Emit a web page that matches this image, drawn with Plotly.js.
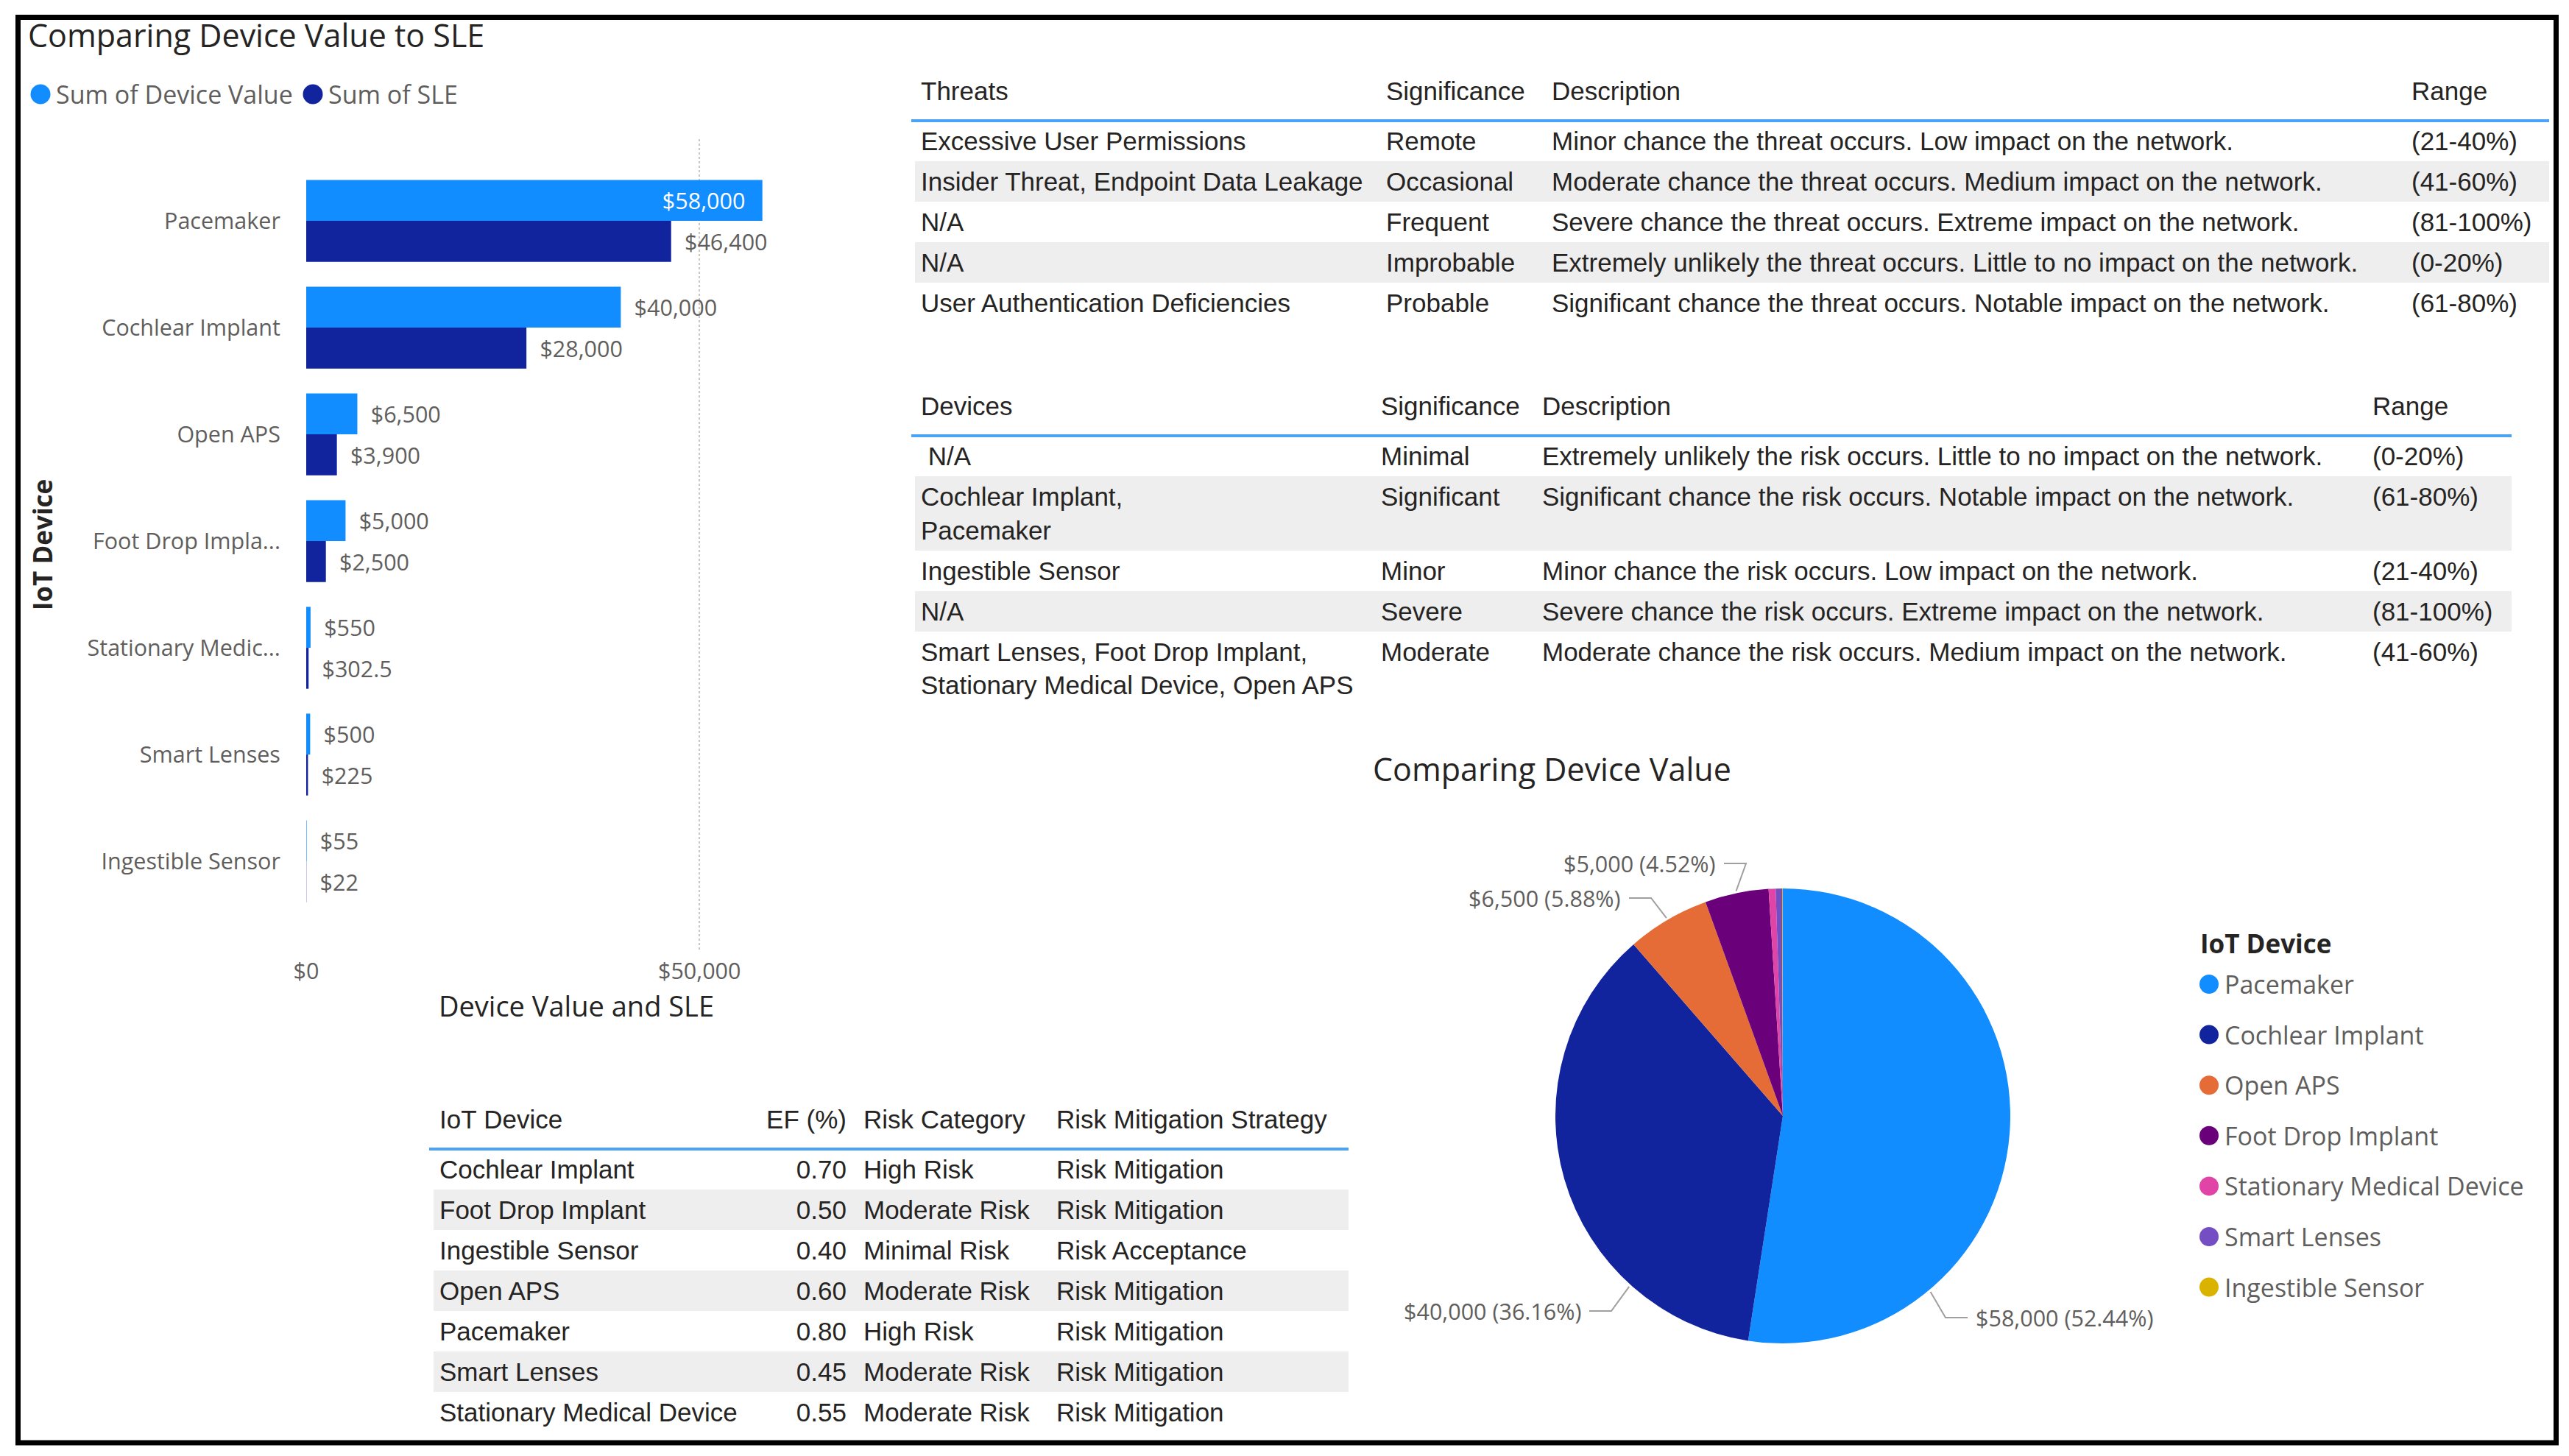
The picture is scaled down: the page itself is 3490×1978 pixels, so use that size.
<!DOCTYPE html>
<html><head><meta charset="utf-8">
<script src="https://cdn.plot.ly/plotly-3.0.1.min.js"></script>
<style>html,body{margin:0;padding:0;background:#fff;overflow:hidden}</style>
</head><body><div id="chart" style="width:3490px;height:1978px"></div>
<script>
// ---------------- data ----------------
const barCategories = ['Pacemaker','Cochlear Implant','Open APS','Foot Drop Implant','Stationary Medical Device','Smart Lenses','Ingestible Sensor'];
const barTickLabels = ['Pacemaker','Cochlear Implant','Open APS','Foot Drop Impla...','Stationary Medic...','Smart Lenses','Ingestible Sensor'];
const deviceValue = [58000,40000,6500,5000,550,500,55];
const sleValue = [46400,28000,3900,2500,302.5,225,22];
const barSeriesNames = ['Sum of Device Value','Sum of SLE'];
const xTickValues = [0,50000];

const pieLabels = ['Pacemaker','Cochlear Implant','Open APS','Foot Drop Implant','Stationary Medical Device','Smart Lenses','Ingestible Sensor'];
const pieValues = [58000,40000,6500,5000,550,500,55];

const threatHeaders = ['Threats','Significance','Description','Range'];
const threatNames = ['Excessive User Permissions','Insider Threat, Endpoint Data Leakage','N/A','N/A','User Authentication Deficiencies'];
const threatSignificance = ['Remote','Occasional','Frequent','Improbable','Probable'];
const threatDescription = ['Minor chance the threat occurs. Low impact on the network.','Moderate chance the threat occurs. Medium impact on the network.','Severe chance the threat occurs. Extreme impact on the network.','Extremely unlikely the threat occurs. Little to no impact on the network.','Significant chance the threat occurs. Notable impact on the network.'];
const threatRange = ['(21-40%)','(41-60%)','(81-100%)','(0-20%)','(61-80%)'];

const deviceHeaders = ['Devices','Significance','Description','Range'];
const deviceGroups = ['\u00A0N/A','Cochlear Implant,<br>Pacemaker','Ingestible Sensor','N/A','Smart Lenses, Foot Drop Implant,<br>Stationary Medical Device, Open APS'];
const deviceSignificance = ['Minimal','Significant','Minor','Severe','Moderate'];
const deviceDescription = ['Extremely unlikely the risk occurs. Little to no impact on the network.','Significant chance the risk occurs. Notable impact on the network.','Minor chance the risk occurs. Low impact on the network.','Severe chance the risk occurs. Extreme impact on the network.','Moderate chance the risk occurs. Medium impact on the network.'];
const deviceRange = ['(0-20%)','(61-80%)','(21-40%)','(81-100%)','(41-60%)'];

const riskHeaders = ['IoT Device','EF (%)','Risk Category','Risk Mitigation Strategy'];
const riskDevices = ['Cochlear Implant','Foot Drop Implant','Ingestible Sensor','Open APS','Pacemaker','Smart Lenses','Stationary Medical Device'];
const riskEF = [0.70,0.50,0.40,0.60,0.80,0.45,0.55];
const riskCategory = ['High Risk','Moderate Risk','Minimal Risk','Moderate Risk','High Risk','Moderate Risk','Moderate Risk'];
const riskStrategy = ['Risk Mitigation','Risk Mitigation','Risk Acceptance','Risk Mitigation','Risk Mitigation','Risk Mitigation','Risk Mitigation'];

// ---------------- styles / layout ----------------
const W = 3490, H = 1978;
const px = x => x / W, py = y => 1 - y / H;
const FONT = '"Segoe UI", "Open Sans", sans-serif';
const TABLE_FONT = '"Segoe UI", "Liberation Sans", Arial, sans-serif';
const DARK = '#252423', GREY = '#605E5C';
const BAR_COLORS = ['#118DFF', '#12239E'];
const PIE_COLORS = ['#118DFF','#12239E','#E66C37','#6B007B','#E044A7','#744EC2','#D9B300'];
const TXT = 35;        // table text size
const LBL = 30.5;      // axis / data label size
const LEG = 34;        // legend text size
const NONE = 'rgba(0,0,0,0)';

const fmt = v => '$' + v.toLocaleString('en-US', {maximumFractionDigits: 2});

// bar chart frame
const barPlot = {x0: 416, x1: 1150, y0: 189, y1: 1291};
const xMax = 68700;
const yTop = -0.766, yBottom = 6.834;

function barTrace(vals, name, color) {
  const inside = vals.map(v => v > 0.8 * xMax);
  return {
    type: 'bar', orientation: 'h', name: name,
    y: barCategories, x: vals,
    marker: {color: color},
    text: vals.map((v, i) => inside[i] ? fmt(v) + '\u2002\u2009' : '\u2002' + fmt(v)),
    textposition: vals.map((v, i) => inside[i] ? 'inside' : 'outside'),
    insidetextanchor: 'end',
    insidetextfont: {family: FONT, size: LBL, color: '#FFFFFF'},
    outsidetextfont: {family: FONT, size: LBL, color: GREY},
    textfont: {family: FONT, size: LBL},
    constraintext: 'none', cliponaxis: false,
    hoverinfo: 'skip', showlegend: false
  };
}

const traces = [
  barTrace(deviceValue, barSeriesNames[0], BAR_COLORS[0]),
  barTrace(sleValue, barSeriesNames[1], BAR_COLORS[1])
];

// pie
const pieBox = {cx: 2422, cy: 1516, r: 309};
traces.push({
  type: 'pie', labels: pieLabels, values: pieValues,
  marker: {colors: PIE_COLORS, line: {width: 0}},
  sort: false, direction: 'clockwise', rotation: 0,
  textinfo: 'none', hoverinfo: 'skip', showlegend: false,
  domain: {x: [px(pieBox.cx - pieBox.r), px(pieBox.cx + pieBox.r)],
           y: [py(pieBox.cy + pieBox.r), py(pieBox.cy - pieBox.r)]}
});

// tables (every cell goes through the same markup path so single and two-line cells line up)
const HEADER_H = 75, ROW_H = 54.5, TEXT_SHIFT = 6.5;
function cellText(v, digits, suffix, noWrap) {
  let s = typeof v === 'number' ? v.toFixed(digits) : v;
  if (noWrap) s = s.replace(/ /g, '\u00A0');
  return '<span>' + s + '</span>' + (suffix || '');
}
function makeTable(cfg) {
  const n = cfg.columns[0].length;
  const suf = cfg.suffix || [];
  const fills = cfg.columns.map(() => Array.from({length: n}, (_, r) => r % 2 ? '#EEEEEE' : '#FFFFFF'));
  const top = cfg.y0 + TEXT_SHIFT;
  return {
    type: 'table',
    domain: {x: [px(cfg.x0), px(cfg.x0 + cfg.widths.reduce((a, b) => a + b, 0))],
             y: [py(top + 520), py(top)]},
    columnwidth: cfg.widths,
    header: {values: cfg.headers.map((h, j) => cellText(h, 2, suf[j], true)), align: cfg.align,
             height: HEADER_H - TEXT_SHIFT,
             fill: {color: '#FFFFFF'}, line: {width: 0, color: NONE},
             font: {family: TABLE_FONT, size: TXT, color: DARK}},
    cells: {values: cfg.columns.map((col, j) => col.map(v => cellText(v, 2, suf[j], false))),
            align: cfg.align, height: ROW_H,
            fill: {color: fills}, line: {width: 0, color: NONE},
            font: {family: TABLE_FONT, size: TXT, color: DARK}},
    hoverinfo: 'skip'
  };
}
const tableCfgs = [
  {x0: 1243, y0: 89, widths: [632, 225, 1168, 195], line: [1238, 3463],
   headers: threatHeaders, columns: [threatNames, threatSignificance, threatDescription, threatRange],
   align: ['left','left','left','left']},
  {x0: 1243, y0: 517, widths: [625, 219, 1128, 197], line: [1238, 3412],
   headers: deviceHeaders, columns: [deviceGroups, deviceSignificance, deviceDescription, deviceRange],
   align: ['left','left','left','left']},
  {x0: 589, y0: 1486, widths: [440, 136, 262, 405], line: [583, 1832],
   headers: riskHeaders, columns: [riskDevices, riskEF, riskCategory, riskStrategy],
   align: ['left','right','left','left'], suffix: ['', '\u2009', '', '']}
];
tableCfgs.forEach(c => traces.push(makeTable(c)));

// shapes
const shapes = [];
shapes.push({type: 'rect', xref: 'paper', yref: 'paper', x0: px(24.5), x1: px(3472.5), y0: py(23.5), y1: py(1960),
             line: {color: '#000000', width: 7}, fillcolor: NONE});
tableCfgs.forEach(c => {
  const y = c.y0 + HEADER_H;
  shapes.push({type: 'line', xref: 'paper', yref: 'paper', x0: px(c.line[0]), x1: px(c.line[1]), y0: py(y), y1: py(y),
               line: {color: '#4AA3F7', width: 4}});
});

const annotations = [];
function dot(cx, cy, d, color) {
  shapes.push({type: 'circle', xref: 'paper', yref: 'paper', x0: px(cx - d / 2), x1: px(cx + d / 2),
               y0: py(cy + d / 2), y1: py(cy - d / 2), fillcolor: color, line: {width: 0}});
}
function label(text, x, y, xanchor, size, color) {
  annotations.push({text: text, xref: 'paper', yref: 'paper', x: px(x), y: py(y),
    xanchor: xanchor, yanchor: 'middle', showarrow: false,
    font: {family: FONT, size: size, color: color}});
}

// bar legend
const barLegend = [{cx: 55, tx: 74}, {cx: 425, tx: 444}];
barSeriesNames.forEach((n, i) => {
  dot(barLegend[i].cx, 128, 27, BAR_COLORS[i]);
  label(n, barLegend[i].tx, 128, 'left', LEG, GREY);
});

// pie title
label('Comparing Device Value', 1863, 1044, 'left', 43, DARK);

// pie legend
label('<b>IoT Device</b>', 2987, 1281, 'left', 35, DARK);
pieLabels.forEach((n, i) => {
  const y = 1337 + i * 68.6;
  dot(3001, y, 26, PIE_COLORS[i]);
  label(n, 3020, y, 'left', LEG, GREY);
});

// pie data labels with leader lines
const total = pieValues.reduce((a, b) => a + b, 0);
const cum = [];
pieValues.reduce((acc, v, i) => { cum[i] = acc; return acc + v; }, 0);
const pieLabelLayout = [
  {angle: 140, tx: 2682, ty: 1790, side: 'right'},
  {angle: 222, tx: 2150, ty: 1781, side: 'left'},
  {angle: null, tx: 2204, ty: 1220, side: 'left'},
  {angle: null, tx: 2333, ty: 1173, side: 'left'}
];
pieLabelLayout.forEach((L, i) => {
  const v = pieValues[i];
  const mid = (cum[i] + v / 2) / total * 360;
  const a = (L.angle == null ? mid : L.angle) * Math.PI / 180;
  const P = [pieBox.cx + (pieBox.r + 3) * Math.sin(a), pieBox.cy - (pieBox.r + 3) * Math.cos(a)];
  const s = L.side === 'right' ? -1 : 1;
  const T = [L.tx + s * 9, L.ty];
  const E = [T[0] + s * 30, L.ty];
  shapes.push({type: 'path', xref: 'paper', yref: 'paper',
    path: `M${px(T[0])},${py(T[1])} L${px(E[0])},${py(E[1])} L${px(P[0])},${py(P[1])}`,
    line: {color: '#A19F9D', width: 2}});
  label(fmt(v) + ' (' + (v / total * 100).toFixed(2) + '%)', L.tx, L.ty,
        L.side === 'right' ? 'left' : 'right', LBL, GREY);
});

const layout = {
  width: W, height: H, margin: {l: 0, r: 0, t: 0, b: 0},
  paper_bgcolor: '#FFFFFF', plot_bgcolor: '#FFFFFF',
  font: {family: FONT, color: GREY},
  title: {text: 'Comparing Device Value to SLE', x: px(38), xanchor: 'left', xref: 'paper',
          y: py(49), yanchor: 'middle', yref: 'paper', font: {family: FONT, size: 43, color: DARK}},
  barmode: 'group', bargap: 0.233, bargroupgap: 0,
  xaxis: {domain: [px(barPlot.x0), px(barPlot.x1)], range: [0, xMax], tickvals: xTickValues,
          ticktext: xTickValues.map(fmt), showgrid: true, gridcolor: '#C8C6C4', griddash: 'dot', gridwidth: 2,
          zeroline: false, showline: false, ticks: 'outside', ticklen: 1, tickcolor: NONE,
          tickfont: {family: FONT, size: LBL, color: GREY},
          title: {text: 'Device Value and SLE', standoff: 16, font: {family: FONT, size: 38, color: DARK}},
          fixedrange: true},
  yaxis: {domain: [py(barPlot.y1), py(barPlot.y0)], type: 'category', categoryorder: 'array',
          categoryarray: barCategories, range: [yBottom, yTop], tickvals: barCategories, ticktext: barTickLabels,
          showgrid: false, zeroline: false, showline: false, ticks: 'outside', ticklen: 28,
          tickcolor: NONE, tickfont: {family: FONT, size: LBL, color: GREY},
          title: {text: '<b>IoT Device</b>', standoff: 36, font: {family: FONT, size: 35, color: DARK}},
          fixedrange: true},
  shapes: shapes, annotations: annotations, showlegend: false
};

Plotly.newPlot('chart', traces, layout, {displayModeBar: false, staticPlot: true});
</script></body></html>
